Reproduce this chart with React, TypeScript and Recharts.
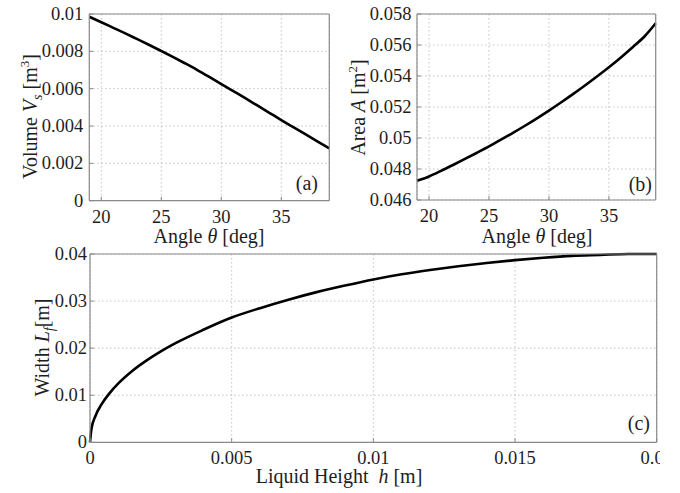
import React from 'react';
import { LineChart, Line, XAxis, YAxis, CartesianGrid } from 'recharts';

// (a) Volume vs angle
const angleA = [19, 20, 21, 22, 23, 24, 25, 26, 27, 28, 29, 30, 31, 32, 33, 34, 35, 36, 37, 38, 39];
const volumeA = [0.00985, 0.00956, 0.00926, 0.00896, 0.00865, 0.00834, 0.00802, 0.00769, 0.00735, 0.007, 0.00663,
  0.00625, 0.00587, 0.00549, 0.0051, 0.00471, 0.00432, 0.00394, 0.00356, 0.00318, 0.0028];

// (b) Area vs angle
const angleB = [19, 20, 21, 22, 23, 24, 25, 26, 27, 28, 29, 30, 31, 32, 33, 34, 35, 36, 37, 38, 38.9];
const areaB = [0.04724, 0.04752, 0.04788, 0.04826, 0.04865, 0.04905, 0.04946, 0.04989, 0.05033, 0.05079, 0.05127,
  0.05177, 0.05229, 0.05283, 0.05339, 0.05397, 0.05457, 0.0552, 0.05587, 0.05658, 0.0574];

// (c) Width vs liquid height
const heightC = [0, 0.00005, 0.0002, 0.0004, 0.0007, 0.001, 0.0015, 0.002, 0.0025, 0.003, 0.004, 0.005, 0.006, 0.007,
  0.008, 0.009, 0.01, 0.011, 0.012, 0.013, 0.014, 0.015, 0.016, 0.017, 0.018, 0.019, 0.02];
const widthC = [0, 0.0028, 0.0057, 0.008, 0.0105, 0.0125, 0.0152, 0.0174, 0.0193, 0.021, 0.0239, 0.0265, 0.0285, 0.0303,
  0.0319, 0.0333, 0.0346, 0.0357, 0.0366, 0.0374, 0.0381, 0.0387, 0.0392, 0.0396, 0.0398, 0.04, 0.04];

const angleTicks = [20, 25, 30, 35];
const volumeTicks = [0, 0.002, 0.004, 0.006, 0.008, 0.01];
const areaTicks = [0.046, 0.048, 0.05, 0.052, 0.054, 0.056, 0.058];
const heightTicks = [0, 0.005, 0.01, 0.015, 0.02];
const widthTicks = [0, 0.01, 0.02, 0.03, 0.04];

const FONT = '"Liberation Serif", "Times New Roman", serif';
const BOX = '#8a8a8a';
const GRID = '#c2c2c2';
const TXT = '#1e1e1e';
const TICK_FS = 18.5;

const toData = (xs: number[], ys: number[]) => xs.map((x, i) => ({ x, y: ys[i] }));

const XTick = (props: any) => {
  const { x, y, payload } = props;
  return (
    <text x={x} y={y} dy="0.71em" textAnchor="middle" fontFamily={FONT} fontSize={TICK_FS} fill={TXT}>
      {String(payload.value)}
    </text>
  );
};

const YTick = (props: any) => {
  const { x, y, payload } = props;
  return (
    <text x={x} y={y} dy="0.33em" textAnchor="end" fontFamily={FONT} fontSize={TICK_FS} fill={TXT}>
      {String(payload.value)}
    </text>
  );
};

type PanelProps = {
  width: number;
  height: number;
  margin: { top: number; right: number; left: number; bottom: number };
  yWidth: number;
  xHeight: number;
  xDomain: [number, number];
  yDomain: [number, number];
  xTicks: number[];
  yTicks: number[];
  data: { x: number; y: number }[];
  yTickMargin: number;
};

function Panel(p: PanelProps) {
  return (
    <LineChart width={p.width} height={p.height} data={p.data} margin={p.margin} style={{ fontFamily: FONT }}>
      <CartesianGrid stroke={GRID} strokeDasharray="1.5 2.5" />
      <XAxis
        dataKey="x"
        type="number"
        domain={p.xDomain}
        ticks={p.xTicks}
        interval={0}
        height={p.xHeight}
        axisLine={{ stroke: BOX, strokeWidth: 1.2 }}
        tickLine={{ stroke: BOX }}
        tickSize={-4}
        tickMargin={13}
        tick={<XTick />}
      />
      <XAxis
        xAxisId="top"
        orientation="top"
        type="number"
        domain={p.xDomain}
        ticks={p.xTicks}
        interval={0}
        height={1}
        axisLine={{ stroke: BOX, strokeWidth: 1.2 }}
        tickLine={{ stroke: BOX }}
        tickSize={-4}
        tick={false}
        allowDataOverflow
      />
      <YAxis
        type="number"
        domain={p.yDomain}
        ticks={p.yTicks}
        interval={0}
        width={p.yWidth}
        axisLine={{ stroke: BOX, strokeWidth: 1.2 }}
        tickLine={{ stroke: BOX }}
        tickSize={-4}
        tickMargin={p.yTickMargin}
        tick={<YTick />}
      />
      <YAxis
        yAxisId="right"
        orientation="right"
        type="number"
        domain={p.yDomain}
        ticks={p.yTicks}
        interval={0}
        width={1}
        axisLine={{ stroke: BOX, strokeWidth: 1.2 }}
        tickLine={{ stroke: BOX }}
        tickSize={-4}
        tick={false}
        allowDataOverflow
      />
      <Line
        dataKey="y"
        type="monotone"
        stroke="#000"
        strokeWidth={2.6}
        dot={false}
        activeDot={false}
        isAnimationActive={false}
      />
    </LineChart>
  );
}

export default function App() {
  const lbl = { fontFamily: FONT, fontSize: 20, fill: TXT } as const;
  return (
    <div style={{ position: 'absolute', left: 0, top: 0, width: 660, height: 493, overflow: 'hidden', background: '#fff', fontFamily: FONT }}>
      <div style={{ position: 'absolute', left: 0, top: 0 }}>
        <Panel
          width={340}
          height={250}
          margin={{ top: 13, right: 9.7, left: 0, bottom: 0 }}
          yWidth={89.3}
          xHeight={49.3}
          xDomain={[19, 39]}
          yDomain={[0, 0.01]}
          xTicks={angleTicks}
          yTicks={volumeTicks}
          data={toData(angleA, volumeA)}
          yTickMargin={10}
        />
      </div>
      <div style={{ position: 'absolute', left: 340, top: 0 }}>
        <Panel
          width={340}
          height={250}
          margin={{ top: 13, right: 23.3, left: 0, bottom: 0 }}
          yWidth={77}
          xHeight={50}
          xDomain={[19, 38.9]}
          yDomain={[0.046, 0.058]}
          xTicks={angleTicks}
          yTicks={areaTicks}
          data={toData(angleB, areaB)}
          yTickMargin={9.6}
        />
      </div>
      <div style={{ position: 'absolute', left: 0, top: 230 }}>
        <Panel
          width={680}
          height={263}
          margin={{ top: 23, right: 22.3, left: 0, bottom: 0 }}
          yWidth={90}
          xHeight={50.7}
          xDomain={[0, 0.02]}
          yDomain={[0, 0.04]}
          xTicks={heightTicks}
          yTicks={widthTicks}
          data={toData(heightC, widthC)}
          yTickMargin={7}
        />
      </div>
      <svg
        width={680}
        height={493}
        style={{ position: 'absolute', left: 0, top: 0, pointerEvents: 'none', overflow: 'visible' }}
      >
        {/* y-axis labels */}
        <text {...lbl} x={37} y={116.5} textAnchor="middle" transform="rotate(-90 37 116.5)">
          Volume <tspan fontStyle="italic">V</tspan>
          <tspan fontSize={14} fontStyle="italic" dy={5}>s</tspan>
          <tspan dy={-5}> [m</tspan>
          <tspan fontSize={13} dy={-8}>3</tspan>
          <tspan dy={8}>]</tspan>
        </text>
        <text {...lbl} x={365} y={107.5} textAnchor="middle" transform="rotate(-90 365 107.5)">
          Area <tspan fontStyle="italic">A</tspan> [m
          <tspan fontSize={13} dy={-8}>2</tspan>
          <tspan dy={8}>]</tspan>
        </text>
        <text {...lbl} x={49} y={347.5} textAnchor="middle" transform="rotate(-90 49 347.5)">
          Width <tspan fontStyle="italic">L</tspan>
          <tspan fontSize={14} fontStyle="italic" dy={5}>f</tspan>
          <tspan dy={-5}>[m]</tspan>
        </text>
        {/* x-axis labels */}
        <text {...lbl} x={209} y={243} textAnchor="middle">
          Angle <tspan fontStyle="italic">θ</tspan> [deg]
        </text>
        <text {...lbl} x={537} y={243} textAnchor="middle">
          Angle <tspan fontStyle="italic">θ</tspan> [deg]
        </text>
        <text {...lbl} x={339} y={483} textAnchor="middle" style={{ whiteSpace: 'pre' }}>
          {'Liquid Height  '}<tspan fontStyle="italic">h</tspan>{' [m]'}
        </text>
        {/* panel tags */}
        <text {...lbl} x={318} y={190} textAnchor="end">(a)</text>
        <text {...lbl} x={652} y={191} textAnchor="end">(b)</text>
        <text {...lbl} x={650} y={430} textAnchor="end">(c)</text>
      </svg>
    </div>
  );
}
